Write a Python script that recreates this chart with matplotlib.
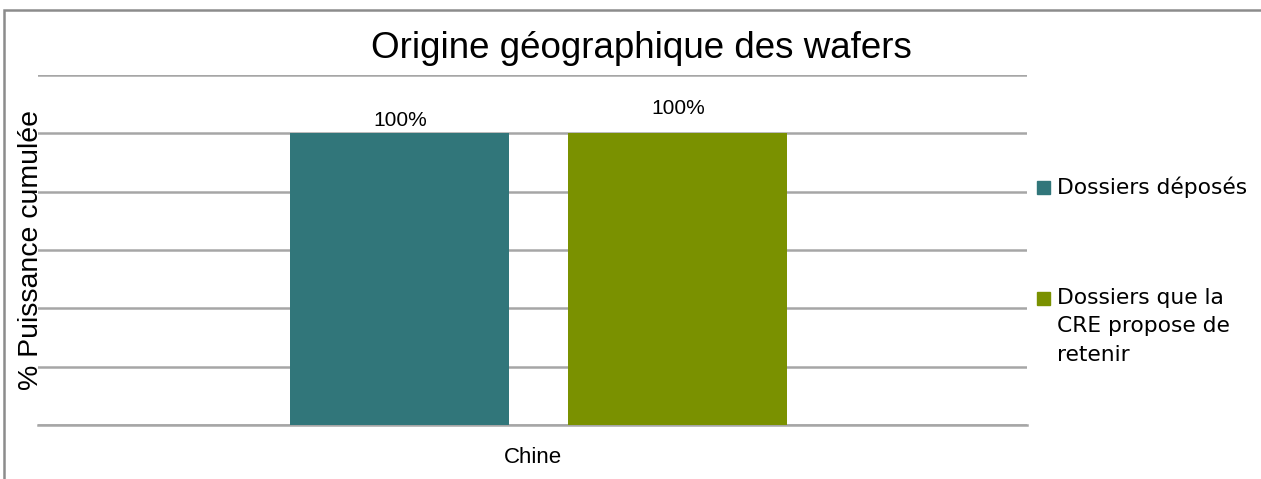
import matplotlib
matplotlib.use("Agg")
import matplotlib.pyplot as plt
from matplotlib.patches import Rectangle

categories = ["Chine"]
series_names = ["Dossiers déposés", "Dossiers que la\nCRE propose de\nretenir"]
series_values = [[100], [100]]
value_labels = [["100%"], ["100%"]]
colors = ["#31767A", "#7A9100"]
yticks = [0, 20, 40, 60, 80, 100, 120]

plt.rcParams['font.family'] = ['Liberation Sans', 'DejaVu Sans']

W, H = 1261, 479
fig = plt.figure(figsize=(W/100, H/100), dpi=100)
ax = fig.add_axes([38/W, 1-425/H, (1027-38)/W, (425-75)/H])

offsets = [-0.134, 0.147]
bw = 0.2214
label_dy = [1.2, 5.2]
for i, (name, vals) in enumerate(zip(series_names, series_values)):
    xs = [j + offsets[i] for j in range(len(categories))]
    ax.bar(xs, vals, width=bw, color=colors[i], zorder=3)
    for x, v, lab in zip(xs, vals, value_labels[i]):
        ax.text(x, v + label_dy[i], lab, ha='center', va='bottom',
                fontsize=15, color='#000000')

ax.set_xlim(-0.5, 0.5)
ax.set_ylim(0, 120)
ax.set_yticks(yticks)
ax.yaxis.grid(True, color='#A6A6A6', linewidth=1.8, zorder=0)
ax.tick_params(axis='y', length=0, labelleft=False)
ax.set_xticks(range(len(categories)))
ax.set_xticklabels(categories, fontsize=16)
ax.tick_params(axis='x', length=0, pad=16)
for s in ['top', 'right', 'left']:
    ax.spines[s].set_visible(False)
ax.spines['bottom'].set_color('#A6A6A6')
ax.spines['bottom'].set_linewidth(1.8)

fig.text(31/W, 1-250/H, "% Puissance cumulée", rotation=90, ha='center',
         va='center', fontsize=20.5)
fig.text(641/W, 1-49/H, "Origine géographique des wafers", ha='center',
         va='center', fontsize=26.5)

# legend
leg_y = [187, 298]
for i, name in enumerate(series_names):
    yc = leg_y[i]
    fig.patches.append(Rectangle((1037/W, 1-(yc+6.5)/H), 13/W, 13/H,
                                 transform=fig.transFigure, color=colors[i]))
    fig.text(1057/W, 1-(yc-10.5)/H, name, ha='left', va='top', fontsize=15.7,
             linespacing=1.55, transform=fig.transFigure,
             family=['DejaVu Sans'])

fig.patches.append(Rectangle((3.5/W, -0.1), 1.2, 1 + 0.1 - 9.5/H,
                             transform=fig.transFigure, fill=False,
                             edgecolor='#8C8C8C', linewidth=1.8))
fig.savefig("out.png", dpi=100)
